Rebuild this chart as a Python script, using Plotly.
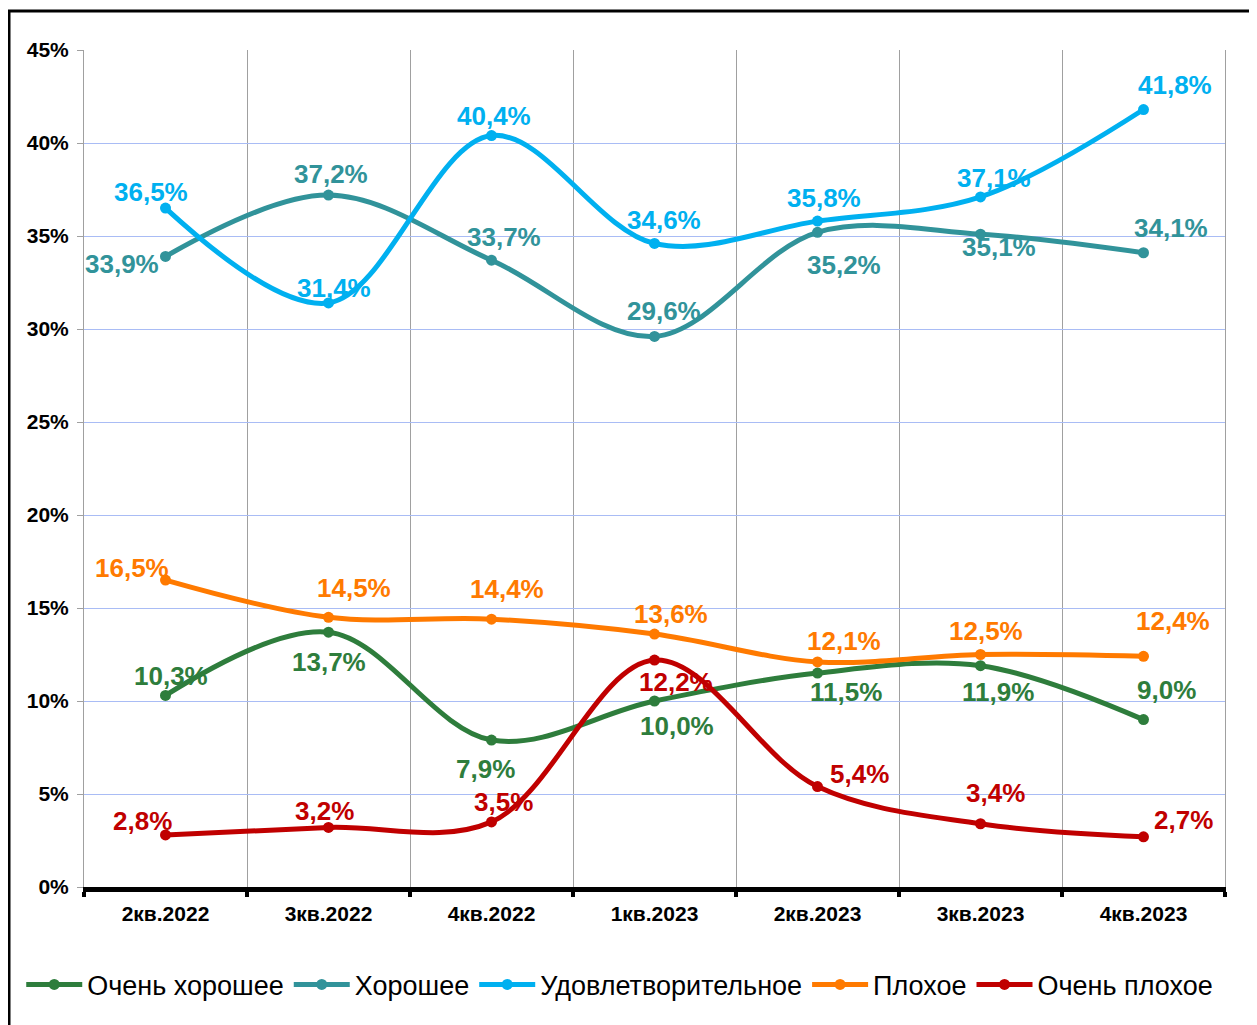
import plotly.graph_objects as go

categories = ["2кв.2022", "3кв.2022", "4кв.2022", "1кв.2023", "2кв.2023", "3кв.2023", "4кв.2023"]
series_names = ["Очень хорошее", "Хорошее", "Удовлетворительное", "Плохое", "Очень плохое"]
very_good = [10.3, 13.7, 7.9, 10.0, 11.5, 11.9, 9.0]
good = [33.9, 37.2, 33.7, 29.6, 35.2, 35.1, 34.1]
satisfactory = [36.5, 31.4, 40.4, 34.6, 35.8, 37.1, 41.8]
bad = [16.5, 14.5, 14.4, 13.6, 12.1, 12.5, 12.4]
very_bad = [2.8, 3.2, 3.5, 12.2, 5.4, 3.4, 2.7]
y_ticks = [0, 5, 10, 15, 20, 25, 30, 35, 40, 45]

series_values = [very_good, good, satisfactory, bad, very_bad]
colors = ["#2E7D3C", "#31939A", "#00B0F0", "#FF7A00", "#C00000"]

# label offsets in pixels (dx, dy up-positive)
label_offsets = [
    [(5, 19), (0, -30), (-6, -29), (22, -25), (28, -19), (17, -26), (23, 30)],
    [(-44, -8), (2, 21), (12, 23), (9, 25), (26, -33), (18, -13), (27, 25)],
    [(-15, 16), (5, 15), (2, 20), (9, 23), (6, 23), (13, 19), (31, 25)],
    [(-34, 12), (25, 29), (15, 30), (16, 20), (26, 21), (5, 24), (29, 35)],
    [(-23, 14), (-4, 16), (12, 20), (21, -22), (42, 13), (15, 31), (40, 17)],
]

FONT = "Liberation Sans, Arial, sans-serif"

fig = go.Figure()
annotations = []
for name, vals, col, offs in zip(series_names, series_values, colors, label_offsets):
    fig.add_trace(go.Scatter(
        x=categories, y=vals, name=name, mode="lines+markers",
        line=dict(color=col, width=5, shape="spline", smoothing=1.0),
        marker=dict(color=col, size=11),
    ))
    for i, (v, (dx, dy)) in enumerate(zip(vals, offs)):
        annotations.append(dict(
            x=i, y=v, xref="x", yref="y",
            text=f"{v:.1f}%".replace(".", ","),
            showarrow=False, xshift=dx, yshift=dy,
            font=dict(family=FONT, size=26, color=col, weight="bold"),
        ))

# page body has an 8px margin; plot area kept at x 84..1225, y 50..887 on screen
fig.update_layout(
    width=1249, height=1017,
    margin=dict(l=76, r=32, t=42, b=138, autoexpand=False),
    paper_bgcolor="white", plot_bgcolor="white",
    font=dict(family=FONT, color="black"),
    annotations=annotations,
    showlegend=True,
    legend=dict(
        orientation="h", x=-0.055, y=-0.117, xanchor="left", yanchor="middle",
        font=dict(family=FONT, size=27, color="black"),
        tracegroupgap=0, itemwidth=56,
    ),
    shapes=[dict(
        type="rect", xref="paper", yref="paper",
        x0=(9 - 84) / 1141, x1=(1254 - 84) / 1141,
        y0=-0.2, y1=1 + (50 - 11) / 837,
        line=dict(color="black", width=3), fillcolor="rgba(0,0,0,0)", layer="below",
    )],
)

fig.update_xaxes(
    type="category", tickson="boundaries",
    showgrid=True, gridcolor="#A0A0A0", gridwidth=1,
    showline=True, linecolor="black", linewidth=5,
    ticks="outside", ticklen=5, tickwidth=4, tickcolor="black",
    ticklabelstandoff=4,
    tickfont=dict(family=FONT, size=21, color="black", weight="bold"),
    range=[-0.5, 6.5],
)
fig.update_yaxes(
    range=[0, 45], tickvals=y_ticks,
    ticktext=[f"{t}%" for t in y_ticks],
    showgrid=True, gridcolor="#A9BCF5", gridwidth=1,
    showline=True, linecolor="#A0A0A0", linewidth=1, mirror=True,
    ticks="outside", ticklen=6, tickcolor="#A0A0A0",
    ticklabelstandoff=4,
    tickfont=dict(family=FONT, size=21, color="black", weight="bold"),
    zeroline=False,
)

fig.write_html("out.html")
